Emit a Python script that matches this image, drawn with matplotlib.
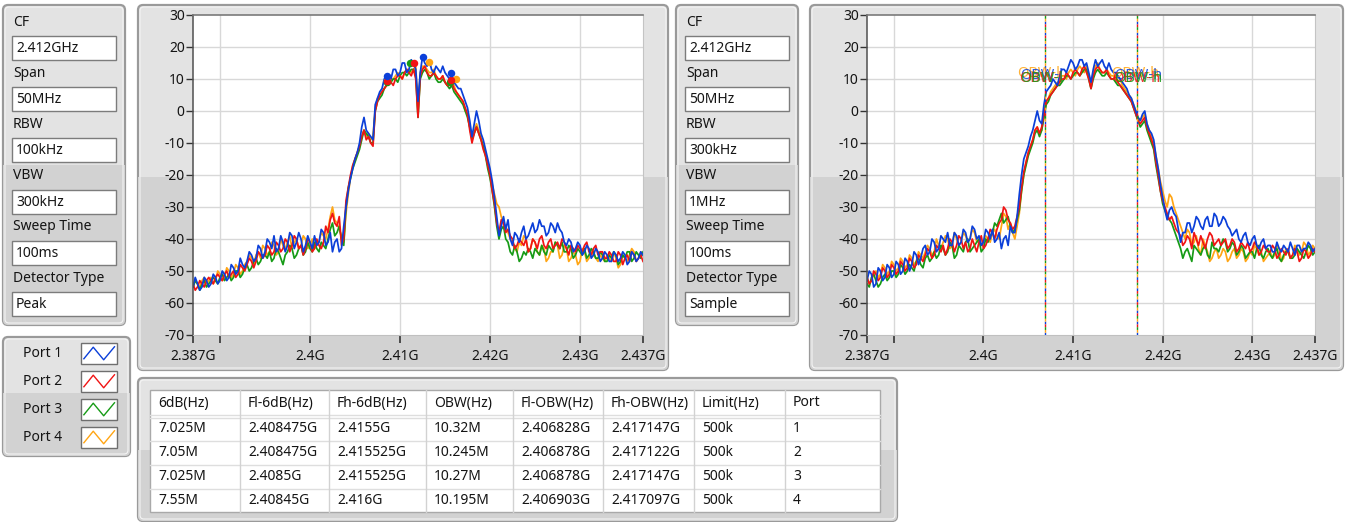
import matplotlib
matplotlib.use("Agg")
import matplotlib.pyplot as plt
from matplotlib.patches import FancyBboxPatch, Rectangle
import numpy as np

plt.rcParams['font.family'] = ['Noto Sans', 'DejaVu Sans']

# ---------------- data ----------------
FREQ_START_GHZ = 2.387
FREQ_STOP_GHZ = 2.437
N_POINTS = 201  # 0.25 MHz grid: "main" samples at x.0/x.5 MHz, "mid" samples between them

PORTS = ["Port 1", "Port 2", "Port 3", "Port 4"]
PORT_COLORS = ["#0b3fd9", "#f01414", "#169b16", "#ffa514"]

# Left chart (RBW 100 kHz, Peak detector), dBm; rows of 5 MHz
L_P1 = ([-55, -54, -55, -53, -54, -52, -53, -51, -52, -49] +
        [-50, -48, -47, -45, -46, -43, -44, -41, -39, -43] +
        [-41, -42, -39, -41, -40, -42, -41, -39, -41, -38] +
        [-41, -44, -40, -43, -30, -21, -15, -10, -2, -7] +
        [-9, 4, 7, 11, 10, 13, 12, 15, 13, 15] +
        [3, 17, 14, 13, 14, 12, 12, 10, 9, 7] +
        [5, 1, -8, 0, -7, -12, -18, -27, -39, -33] +
        [-34, -42, -39, -38, -40, -37, -38, -34, -36, -38] +
        [-36, -35, -38, -42, -41, -43, -42, -44, -43, -45] +
        [-44, -46, -45, -47, -45, -46, -45, -47, -45, -46] + [-45])
L_P1_MID = ([-52, -56, -52, -55, -51, -54, -50, -53, -48, -51] +
            [-46, -49, -44, -47, -42, -46, -40, -43, -44, -39] +
            [-44, -38, -43, -38, -44, -39, -43, -42, -37, -42] +
            [-38, -41, -44, -36, -25, -18, -13, -5, -6, -8] +
            [2, 6, 10, 9, 13, 11, 15, 12, 16, 13] +
            [12, 15, 16, 12, 13, 14, 11, 11, 8, 7] +
            [3, -3, -4, -3, -9, -15, -22, -33, -36, -37] +
            [-40, -38, -41, -36, -39, -35, -37, -36, -39, -35] +
            [-38, -37, -41, -40, -44, -41, -45, -42, -46, -43] +
            [-47, -44, -47, -44, -47, -44, -48, -44, -47, -44])
L_P2 = ([-54, -55, -54, -53, -53, -52, -52, -51, -52, -50] +
        [-51, -49, -48, -47, -47, -45, -45, -43, -44, -42] +
        [-43, -41, -42, -40, -42, -43, -41, -43, -42, -41] +
        [-38, -32, -36, -42, -28, -20, -15, -11, -6, -8] +
        [-11, 3, 6, 8, 9, 10, 11, 12, 12, 13] +
        [-2, 13, 12, 11, 11, 10, 9, 8, 7, 5] +
        [3, -1, -10, -5, -9, -14, -20, -29, -38, -35] +
        [-37, -40, -42, -41, -40, -43, -41, -40, -42, -41] +
        [-43, -41, -40, -43, -42, -44, -43, -42, -44, -43] +
        [-45, -44, -46, -45, -47, -45, -46, -47, -45, -46] + [-47])
L_P2_MID = ([-56, -53, -55, -52, -54, -51, -53, -50, -51, -52] +
            [-48, -50, -46, -49, -44, -46, -42, -45, -41, -44] +
            [-40, -44, -39, -43, -45, -40, -44, -40, -43, -36] +
            [-34, -35, -33, -40, -24, -17, -13, -8, -9, -10] +
            [0, 5, 7, 10, 8, 11, 10, 13, 11, 10] +
            [11, 14, 11, 12, 10, 11, 8, 9, 6, 4] +
            [1, -6, -7, -7, -12, -17, -25, -35, -34, -38] +
            [-39, -43, -40, -42, -44, -40, -43, -39, -43, -40] +
            [-42, -43, -41, -45, -43, -42, -44, -41, -45, -42] +
            [-44, -46, -44, -47, -44, -48, -45, -44, -47, -45])
L_P3 = ([-55, -54, -54, -55, -53, -53, -52, -53, -51, -52] +
        [-50, -51, -48, -49, -46, -47, -45, -44, -46, -44] +
        [-48, -44, -43, -45, -42, -44, -43, -41, -44, -42] +
        [-40, -35, -38, -40, -30, -21, -16, -12, -6, -8] +
        [-10, 3, 5, 8, 9, 10, 11, 12, 12, 13] +
        [-2, 12, 12, 11, 10, 9, 9, 7, 6, 4] +
        [2, -2, -9, -5, -9, -14, -21, -30, -40, -36] +
        [-41, -45, -44, -46, -45, -44, -43, -45, -44, -42] +
        [-44, -42, -41, -44, -43, -45, -44, -43, -45, -44] +
        [-46, -45, -47, -46, -45, -47, -46, -44, -46, -45] + [-44])
L_P3_MID = ([-53, -56, -53, -54, -52, -54, -51, -52, -53, -50] +
            [-52, -49, -50, -47, -48, -45, -46, -47, -43, -46] +
            [-45, -42, -46, -43, -45, -41, -44, -43, -41, -43] +
            [-37, -39, -36, -42, -24, -18, -14, -9, -7, -10] +
            [0, 4, 7, 9, 10, 9, 12, 11, 13, 11] +
            [10, 13, 10, 12, 9, 10, 8, 8, 5, 3] +
            [0, -5, -7, -7, -11, -18, -25, -36, -37, -40] +
            [-44, -42, -47, -44, -43, -46, -44, -42, -45, -43] +
            [-41, -43, -44, -42, -46, -43, -45, -46, -43, -46] +
            [-44, -47, -45, -44, -48, -45, -44, -47, -44, -46])
L_P4 = ([-55, -54, -53, -54, -52, -53, -51, -52, -50, -51] +
        [-49, -50, -47, -46, -45, -46, -43, -44, -42, -44] +
        [-42, -41, -43, -40, -42, -40, -42, -43, -41, -39] +
        [-37, -30, -35, -39, -32, -21, -15, -11, -6, -7] +
        [-8, 4, 6, 8, 10, 11, 11, 12, 13, 13] +
        [0, 14, 13, 12, 11, 10, 9, 9, 8, 5] +
        [3, -1, -8, -4, -8, -13, -19, -26, -30, -35] +
        [-38, -41, -44, -42, -40, -43, -41, -45, -43, -46] +
        [-44, -42, -45, -43, -46, -45, -47, -44, -46, -45] +
        [-47, -46, -45, -47, -46, -48, -46, -45, -44, -46] + [-45])
L_P4_MID = ([-53, -55, -52, -53, -54, -50, -53, -49, -52, -48] +
            [-51, -48, -45, -48, -44, -42, -45, -41, -45, -40] +
            [-43, -39, -41, -43, -39, -43, -40, -42, -38, -40] +
            [-33, -34, -37, -41, -26, -17, -13, -8, -8, -9] +
            [1, 5, 7, 9, 10, 12, 10, 13, 12, 14] +
            [12, 14, 12, 13, 10, 11, 8, 10, 6, 4] +
            [0, -5, -6, -6, -11, -16, -23, -29, -33, -36] +
            [-40, -43, -41, -39, -44, -40, -44, -42, -47, -44] +
            [-41, -46, -42, -47, -44, -48, -43, -47, -44, -46] +
            [-45, -47, -46, -44, -49, -45, -47, -43, -47, -44])

# Right chart (RBW 300 kHz, Sample detector)
R_P1 = ([-53, -51, -54, -50, -52, -49, -51, -48, -50, -47] +
        [-48, -45, -46, -42, -44, -41, -43, -40, -38, -42] +
        [-39, -41, -38, -40, -37, -39, -41, -38, -37, -40] +
        [-43, -39, -36, -38, -26, -15, -11, -6, 0, -4] +
        [6, 8, 9, 11, 13, 14, 15, 14, 16, 15] +
        [9, 16, 15, 14, 15, 12, 11, 9, 7, 4] +
        [0, -3, 0, -6, -9, -18, -27, -34, -30, -33] +
        [-41, -38, -35, -36, -34, -37, -33, -36, -33, -35] +
        [-34, -37, -38, -40, -39, -41, -40, -42, -41, -43] +
        [-42, -44, -43, -42, -44, -43, -42, -44, -43, -42] + [-43])
R_P1_MID = ([-50, -55, -49, -53, -48, -52, -47, -51, -46, -50] +
            [-44, -48, -43, -45, -40, -44, -39, -41, -42, -38] +
            [-42, -37, -41, -36, -40, -42, -37, -40, -41, -38] +
            [-40, -42, -38, -33, -20, -13, -8, -3, -3, 2] +
            [7, 10, 8, 13, 12, 16, 13, 16, 14, 12] +
            [13, 14, 16, 13, 13, 12, 10, 8, 5, 2] +
            [-2, -1, -4, -7, -14, -23, -31, -31, -32, -37] +
            [-38, -35, -38, -33, -36, -34, -36, -32, -36, -33] +
            [-36, -39, -37, -41, -38, -42, -39, -43, -40, -42] +
            [-44, -41, -44, -43, -41, -45, -42, -43, -41, -44])
R_P2 = ([-52, -53, -51, -52, -50, -51, -49, -50, -48, -49] +
        [-47, -48, -46, -45, -44, -45, -43, -42, -43, -41] +
        [-42, -40, -41, -43, -42, -41, -43, -40, -38, -37] +
        [-34, -31, -35, -36, -30, -19, -13, -9, -5, -5] +
        [3, 5, 7, 9, 10, 11, 12, 12, 13, 12] +
        [7, 13, 13, 12, 11, 10, 9, 7, 5, 3] +
        [-1, -4, -2, -7, -11, -20, -28, -32, -33, -37] +
        [-39, -41, -40, -38, -42, -41, -40, -39, -41, -42] +
        [-40, -42, -41, -43, -42, -41, -43, -42, -44, -43] +
        [-44, -43, -45, -44, -43, -45, -44, -46, -44, -45] + [-44])
R_P2_MID = ([-54, -50, -53, -49, -52, -48, -51, -47, -50, -46] +
            [-49, -45, -47, -43, -46, -42, -44, -45, -40, -44] +
            [-39, -43, -44, -40, -44, -39, -42, -37, -40, -35] +
            [-30, -34, -37, -33, -24, -16, -11, -6, -7, -1] +
            [4, 6, 8, 10, 12, 10, 13, 11, 14, 10] +
            [11, 14, 12, 13, 10, 11, 8, 6, 4, 1] +
            [-3, -3, -5, -9, -16, -25, -30, -34, -35, -38] +
            [-42, -39, -43, -40, -39, -43, -38, -42, -40, -41] +
            [-43, -40, -44, -41, -43, -44, -41, -45, -42, -44] +
            [-42, -46, -43, -45, -46, -43, -47, -43, -46, -43])
R_P3 = ([-54, -52, -53, -54, -51, -52, -50, -51, -49, -50] +
        [-49, -47, -48, -46, -47, -44, -45, -43, -44, -42] +
        [-45, -43, -41, -44, -42, -40, -43, -41, -38, -36] +
        [-32, -34, -36, -37, -31, -20, -14, -10, -6, -6] +
        [2, 5, 7, 8, 10, 11, 11, 12, 12, 13] +
        [7, 12, 12, 11, 11, 10, 8, 7, 5, 3] +
        [-1, -5, -3, -8, -12, -21, -29, -33, -35, -39] +
        [-43, -44, -45, -42, -44, -43, -45, -41, -43, -42] +
        [-41, -43, -42, -44, -43, -45, -44, -43, -45, -44] +
        [-45, -44, -46, -45, -44, -46, -43, -45, -44, -43] + [-44])
R_P3_MID = ([-55, -51, -55, -52, -53, -50, -52, -48, -51, -48] +
            [-50, -46, -49, -45, -46, -46, -42, -45, -41, -46] +
            [-42, -44, -40, -43, -41, -44, -40, -39, -35, -34] +
            [-35, -33, -38, -34, -25, -17, -12, -7, -8, -2] +
            [3, 6, 8, 9, 11, 10, 12, 11, 13, 10] +
            [10, 13, 11, 12, 10, 9, 8, 6, 4, 1] +
            [-3, -4, -6, -10, -17, -25, -31, -34, -37, -41] +
            [-46, -43, -47, -43, -45, -42, -46, -43, -44, -40] +
            [-44, -41, -45, -42, -46, -44, -46, -42, -46, -43] +
            [-46, -43, -47, -44, -46, -45, -44, -46, -42, -45])
R_P4 = ([-52, -53, -50, -51, -49, -50, -48, -49, -47, -48] +
        [-46, -47, -45, -44, -43, -44, -42, -41, -40, -42] +
        [-40, -41, -39, -40, -38, -40, -41, -40, -38, -39] +
        [-36, -33, -35, -40, -32, -20, -13, -9, -5, -6] +
        [3, 6, 8, 9, 11, 12, 12, 13, 13, 14] +
        [8, 14, 13, 12, 12, 11, 9, 8, 6, 4] +
        [0, -3, -1, -6, -10, -18, -25, -30, -27, -32] +
        [-36, -40, -38, -41, -43, -40, -44, -46, -43, -45] +
        [-44, -46, -43, -45, -44, -46, -45, -43, -44, -46] +
        [-44, -45, -43, -46, -44, -45, -43, -44, -42, -44] + [-43])
R_P4_MID = ([-54, -51, -52, -48, -51, -47, -50, -46, -49, -45] +
            [-48, -44, -46, -42, -45, -40, -43, -39, -43, -38] +
            [-42, -38, -41, -37, -41, -42, -39, -41, -37, -40] +
            [-32, -37, -38, -36, -25, -16, -11, -6, -7, -1] +
            [4, 7, 9, 11, 10, 13, 11, 14, 12, 11] +
            [12, 15, 12, 13, 11, 10, 10, 7, 5, 2] +
            [-2, -2, -4, -8, -14, -22, -28, -26, -30, -34] +
            [-38, -37, -42, -39, -45, -42, -47, -44, -46, -43] +
            [-47, -44, -46, -43, -47, -44, -42, -45, -47, -45] +
            [-46, -42, -47, -43, -46, -42, -45, -41, -45, -42])

# Peak / -6 dB markers on the left chart (GHz, dBm) per port
MARK_F = [[2.4126, 2.4157, 2.4086], [2.4116, 2.4157, 2.4085],
          [2.4111, 2.4155, 2.4085], [2.4132, 2.4162, 2.4085]]
MARK_DB = [[17.0, 12.0, 10.8], [15.0, 9.8, 9.3],
           [15.0, 9.2, 9.0], [15.4, 10.0, 9.5]]

Y_TICKS = [30, 20, 10, 0, -10, -20, -30, -40, -50, -60, -70]
Y_LABELS = ["30", "20", "10", "0", "-10", "-20", "-30", "-40", "-50", "-60", "-70"]
X_TICKS = [2.387, 2.39, 2.40, 2.41, 2.42, 2.43, 2.437]
X_LABELS = ["2.387G", "", "2.4G", "2.41G", "2.42G", "2.43G", "2.437G"]
X_GRID = [2.39, 2.40, 2.41, 2.42, 2.43]

SETTING_LABELS = ["CF", "Span", "RBW", "VBW", "Sweep Time", "Detector Type"]
SETTINGS_LEFT = ["2.412GHz", "50MHz", "100kHz", "300kHz", "100ms", "Peak"]
SETTINGS_RIGHT = ["2.412GHz", "50MHz", "300kHz", "1MHz", "100ms", "Sample"]

TABLE_HEADERS = ["6dB(Hz)", "Fl-6dB(Hz)", "Fh-6dB(Hz)", "OBW(Hz)",
                 "Fl-OBW(Hz)", "Fh-OBW(Hz)", "Limit(Hz)", "Port"]
TABLE_ROWS = [
    ["7.025M", "2.408475G", "2.4155G", "10.32M", "2.406828G", "2.417147G", "500k", "1"],
    ["7.05M", "2.408475G", "2.415525G", "10.245M", "2.406878G", "2.417122G", "500k", "2"],
    ["7.025M", "2.4085G", "2.415525G", "10.27M", "2.406878G", "2.417147G", "500k", "3"],
    ["7.55M", "2.40845G", "2.416G", "10.195M", "2.406903G", "2.417097G", "500k", "4"],
]
OBW_LOW_GHZ = [2.406828, 2.406878, 2.406878, 2.406903]
OBW_HIGH_GHZ = [2.417147, 2.417122, 2.417147, 2.417097]


def interleave(main, mid):
    out = np.empty(len(main) + len(mid))
    out[0::2] = main
    out[1::2] = mid
    return out


# ---------------- figure ----------------
W, H = 1346, 522
fig = plt.figure(figsize=(W / 100, H / 100), dpi=100)
fig.patch.set_facecolor("white")
bg = fig.add_axes([0, 0, 1, 1])
bg.set_xlim(0, W)
bg.set_ylim(H, 0)
bg.axis("off")

LIGHT = "#e3e3e3"
DARK = "#d2d2d2"
TXT = "#141414"
FS = 10


def panel(x0, y0, x1, y1, split):
    p = FancyBboxPatch((x0, y0), x1 - x0, y1 - y0,
                       boxstyle="round,pad=0,rounding_size=5",
                       fc=LIGHT, ec="#9a9a9a", lw=1.6, zorder=1)
    bg.add_patch(p)
    r = Rectangle((x0, split), x1 - x0, y1 - split, fc=DARK, ec="none", zorder=1.1)
    bg.add_patch(r)
    r.set_clip_path(p)
    hi = FancyBboxPatch((x0 + 2, y0 + 2), x1 - x0 - 4, y1 - y0 - 4,
                        boxstyle="round,pad=0,rounding_size=4",
                        fc="none", ec="#f4f4f4", lw=0.8, zorder=1.2)
    bg.add_patch(hi)


def settings_panel(x0, values):
    panel(x0, 5, x0 + 122, 325, 165)
    for i, (lab, val) in enumerate(zip(SETTING_LABELS, values)):
        ly = 22 + 51.2 * i
        by = 36 + 51.2 * i
        bg.text(x0 + 10, ly, lab, fontsize=FS, color=TXT, va="center", ha="left", zorder=3)
        bg.add_patch(Rectangle((x0 + 9, by), 104, 24, fc="white", ec="#7c7c7c", lw=1.0, zorder=2))
        bg.text(x0 + 13, by + 12.5, val, fontsize=FS, color=TXT, va="center", ha="left", zorder=3)


settings_panel(3, SETTINGS_LEFT)
settings_panel(676, SETTINGS_RIGHT)

# legend panel
panel(3, 337, 130, 456, 393)
for i, (name, col) in enumerate(zip(PORTS, PORT_COLORS)):
    cy = 353.5 + 28 * i
    bg.text(23, cy, name, fontsize=FS, color=TXT, va="center", ha="left", zorder=3)
    bx, by, bw, bh = 81, cy - 10.5, 36, 21
    bg.add_patch(Rectangle((bx, by), bw, bh, fc="white", ec="#6f6f6f", lw=1.0, zorder=2))
    zx = [bx + bw * t for t in (0.08, 0.34, 0.63, 0.93)]
    zy = [by + bh * t for t in (0.75, 0.2, 0.8, 0.18)]
    bg.plot(zx, zy, color=col, lw=1.0, zorder=3)

# chart panels
panel(138, 5, 668, 370, 177)
panel(810, 5, 1343, 370, 177)

freq = np.linspace(FREQ_START_GHZ, FREQ_STOP_GHZ, N_POINTS)


def chart(x0, x1, traces):
    y0, y1 = 15, 335
    ax = fig.add_axes([x0 / W, 1 - y1 / H, (x1 - x0) / W, (y1 - y0) / H])
    ax.set_facecolor("white")
    ax.set_xlim(FREQ_START_GHZ, FREQ_STOP_GHZ)
    ax.set_ylim(-70, 30)
    for gx in X_GRID:
        ax.axvline(gx, color="#d8d8d8", lw=1.0, zorder=0.5)
    for gy in Y_TICKS[1:-1]:
        ax.axhline(gy, color="#d8d8d8", lw=1.0, zorder=0.5)
    for k in [3, 2, 1, 0]:
        ax.plot(freq, traces[k], color=PORT_COLORS[k], lw=1.25, zorder=2 + (3 - k) * 0.1)
    ax.set_yticks(Y_TICKS)
    ax.set_yticklabels(Y_LABELS)
    ax.set_xticks(X_TICKS)
    ax.set_xticklabels(X_LABELS)
    ax.tick_params(axis="y", length=5, width=1, pad=1, labelsize=FS, colors="#333333", labelcolor=TXT)
    ax.tick_params(axis="x", length=6, width=1.2, pad=4, labelsize=FS, colors="#333333", labelcolor=TXT)
    ax.spines["left"].set_color("#505050")
    ax.spines["left"].set_linewidth(1.1)
    ax.spines["top"].set_color("#7a7a7a")
    ax.spines["top"].set_linewidth(1.2)
    ax.spines["right"].set_color("#c4c4c4")
    ax.spines["bottom"].set_color("#c0c0c0")
    return ax


left_traces = [interleave(L_P1, L_P1_MID), interleave(L_P2, L_P2_MID),
               interleave(L_P3, L_P3_MID), interleave(L_P4, L_P4_MID)]
right_traces = [interleave(R_P1, R_P1_MID), interleave(R_P2, R_P2_MID),
                interleave(R_P3, R_P3_MID), interleave(R_P4, R_P4_MID)]

axL = chart(193, 643, left_traces)
for k in [3, 2, 1, 0]:
    axL.plot(MARK_F[k], MARK_DB[k], "o", color=PORT_COLORS[k], ms=5.4, mec="none", zorder=4)

axR = chart(867, 1315, right_traces)
for k in range(4):
    ls = (k * 2, (2, 6))
    axR.axvline(OBW_LOW_GHZ[k], color=PORT_COLORS[k], lw=1.0, ls=ls, zorder=5)
    axR.axvline(OBW_HIGH_GHZ[k], color=PORT_COLORS[k], lw=1.0, ls=ls, zorder=5)
text_offsets = [(0.00010, 11.0), (-0.00003, 10.0), (0.00014, 10.2), (-0.00020, 11.6)]
for k in [3, 0, 1, 2]:
    dx, yv = text_offsets[k]
    axR.text(np.mean(OBW_LOW_GHZ) - 0.0005 + dx, yv, "OBW-l", color=PORT_COLORS[k],
             fontsize=10.5, ha="center", va="center", zorder=6, alpha=0.85)
    axR.text(np.mean(OBW_HIGH_GHZ) + dx, yv, "OBW-h", color=PORT_COLORS[k],
             fontsize=10.5, ha="center", va="center", zorder=6, alpha=0.85)

# table panel
panel(138, 378, 897, 521, 450)
col_edges = [150, 240, 329, 426, 513, 603, 694, 785, 880]
t_top, t_bot = 390, 512
bg.add_patch(Rectangle((col_edges[0], t_top), col_edges[-1] - col_edges[0], t_bot - t_top,
                       fc="white", ec="#a9a9a9", lw=1.0, zorder=2))
for yl in [415, 418, 441, 465, 489]:
    bg.plot([col_edges[0], col_edges[-1]], [yl, yl], color="#dedede", lw=1.0, zorder=2.5)
for xe in col_edges[1:-1]:
    bg.plot([xe, xe], [t_top, t_bot], color="#d2d2d2", lw=1.0, zorder=2.6)
for j, h in enumerate(TABLE_HEADERS):
    bg.text(col_edges[j] + 8, 403, h, fontsize=FS, color=TXT, va="center", ha="left", zorder=3)
for i, row in enumerate(TABLE_ROWS):
    cy = 429 + 24 * i
    for j, v in enumerate(row):
        bg.text(col_edges[j] + 8, cy, v, fontsize=FS, color=TXT, va="center", ha="left", zorder=3)

fig.savefig("out.png", dpi=100)
